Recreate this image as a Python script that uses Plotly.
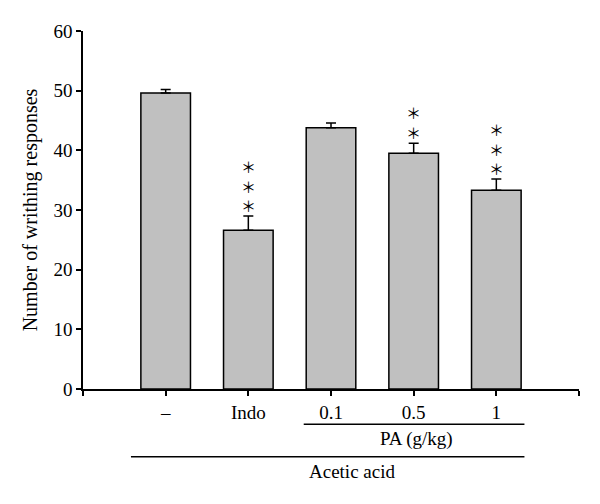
import plotly.graph_objects as go

categories = ["–", "Indo", "0.1", "0.5", "1"]
means = [49.6, 26.6, 43.8, 39.5, 33.3]
sems = [0.6, 2.4, 0.8, 1.7, 1.9]
stars = [0, 3, 0, 2, 3]

FONT = "Liberation Serif"
xpos = list(range(len(categories)))

fig = go.Figure()
fig.add_trace(go.Bar(
    x=xpos, y=means, width=0.6,
    marker=dict(color="#c0c0c0", line=dict(color="black", width=1.5)),
    error_y=dict(type="data", symmetric=False, array=sems,
                 arrayminus=[0] * len(sems), color="black",
                 thickness=1.5, width=5),
    showlegend=False,
))

# significance stars
for i, n in enumerate(stars):
    if n:
        fig.add_annotation(x=xpos[i], y=means[i] + sems[i], xref="x", yref="y",
                           text="<br>".join(["＊"] * n),
                           showarrow=False, yanchor="bottom", yshift=-2,
                           font=dict(family="Noto Sans CJK JP", size=15, color="black"))

# group lines and labels
fig.add_shape(type="line", xref="x", yref="paper", x0=1.67, x1=4.34,
              y0=-0.0986, y1=-0.0986, line=dict(color="black", width=1.5))
fig.add_annotation(x=3.04, y=-0.141, xref="x", yref="paper", text="PA (g/kg)",
                   showarrow=False, yanchor="middle",
                   font=dict(family=FONT, size=19, color="black"))
fig.add_shape(type="line", xref="x", yref="paper", x0=-0.42, x1=4.34,
              y0=-0.189, y1=-0.189, line=dict(color="black", width=1.5))
fig.add_annotation(x=2.25, y=-0.231, xref="x", yref="paper", text="Acetic acid",
                   showarrow=False, yanchor="middle",
                   font=dict(family=FONT, size=19, color="black"))

fig.update_layout(
    width=600, height=504,
    margin=dict(l=75, r=29, t=23, b=123),
    plot_bgcolor="white", paper_bgcolor="white",
    font=dict(family=FONT, size=19, color="black"),
)
fig.update_xaxes(
    range=[-1, 5], tickvals=[-1] + xpos + [5], ticktext=[""] + categories + [""],
    showline=True, linecolor="black", linewidth=1.5,
    ticks="outside", ticklen=5, tickwidth=1.5, tickcolor="black",
    showgrid=False, zeroline=False, automargin=False,
)
fig.update_yaxes(
    range=[0, 60], tickvals=[0, 10, 20, 30, 40, 50, 60],
    showline=True, linecolor="black", linewidth=1.5,
    ticks="outside", ticklen=5, tickwidth=1.5, tickcolor="black",
    showgrid=False, zeroline=False, automargin=False,
    title=dict(text="Number of writhing responses", standoff=10,
               font=dict(family=FONT, size=20)),
)

fig.write_html("out.html")
